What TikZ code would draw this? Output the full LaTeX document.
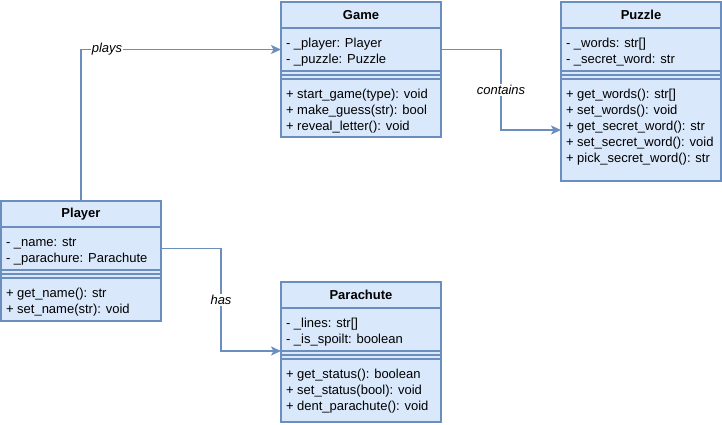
\documentclass[tikz,border=0pt]{standalone}
\usepackage{fontspec}
\setmainfont{Liberation Sans}
\usetikzlibrary{arrows.meta, positioning}
\definecolor{umlfill}{RGB}{218,232,252}
\definecolor{umlline}{RGB}{108,142,191}

% one field of a class box: fixed height, text at the top
\newcommand{\umltext}[2]{\parbox[c][#1][t]{150pt}{\vspace{8.5pt}\strut #2}}
\newcommand{\umlfont}{\fontsize{13}{16}\selectfont}

\tikzset{
  umlbox/.style={draw=umlline, fill=umlfill, line width=1.3pt, outer sep=0pt},
  umlhead/.style={umlbox, minimum width=160pt, minimum height=26pt, inner sep=0pt, anchor=north west, font=\umlfont\bfseries},
  umlfield/.style={umlbox, inner xsep=5pt, inner ysep=0pt, align=left, font=\umlfont},
  umlsep/.style={umlbox, minimum width=160pt, minimum height=8pt, inner sep=0pt,
    path picture={\draw[umlline, line width=1.3pt] (path picture bounding box.west) -- (path picture bounding box.east);}},
  link/.style={draw=umlline, line width=1.6pt, -{Stealth[length=10pt, width=9pt, inset=2.5pt]}},
  linklabel/.style={fill=white, font=\umlfont\itshape, inner sep=1pt}
}

\begin{document}
\begin{tikzpicture}[x=1pt, y=-1pt]
  \useasboundingbox (0,0) rectangle (722,424);

  % Game
  \node[umlhead] (gamehead) at (281,2) {Game};
  \node[umlfield, below=0pt of gamehead] (gameattr) {\umltext{43pt}{- \_player: Player\\ - \_puzzle: Puzzle}};
  \node[umlsep, below=0pt of gameattr] (gamesep) {};
  \node[umlfield, below=0pt of gamesep] (gamemeth) {\umltext{58pt}{+ start\_game(type): void\\ + make\_guess(str): bool\\ + reveal\_letter(): void}};

  % Puzzle
  \node[umlhead] (puzzlehead) at (561,2) {Puzzle};
  \node[umlfield, below=0pt of puzzlehead] (puzzleattr) {\umltext{43pt}{- \_words: str[]\\ - \_secret\_word: str}};
  \node[umlsep, below=0pt of puzzleattr] (puzzlesep) {};
  \node[umlfield, below=0pt of puzzlesep] (puzzlemeth) {\umltext{102pt}{+ get\_words(): str[]\\ + set\_words(): void\\ + get\_secret\_word(): str\\ + set\_secret\_word(): void\\ + pick\_secret\_word(): str}};

  % Player
  \node[umlhead] (playerhead) at (1,201) {Player};
  \node[umlfield, below=0pt of playerhead] (playerattr) {\umltext{43pt}{- \_name: str\\ - \_parachure: Parachute}};
  \node[umlsep, below=0pt of playerattr] (playersep) {};
  \node[umlfield, below=0pt of playersep] (playermeth) {\umltext{43pt}{+ get\_name(): str\\ + set\_name(str): void}};

  % Parachute
  \node[umlhead] (chutehead) at (281,282) {Parachute};
  \node[umlfield, below=0pt of chutehead] (chuteattr) {\umltext{43pt}{- \_lines: str[]\\ - \_is\_spoilt: boolean}};
  \node[umlsep, below=0pt of chuteattr] (chutesep) {};
  \node[umlfield, below=0pt of chutesep] (chutemeth) {\umltext{63pt}{+ get\_status(): boolean\\ + set\_status(bool): void\\ + dent\_parachute(): void}};

  % associations
  \draw[link] (playerhead.north) |- (gameattr.west) node[linklabel, pos=0.565] {plays};
  \draw[link] (gameattr.east) -- ++(60,0) |- (puzzlemeth.west) node[linklabel, pos=0.25] {contains};
  \draw[link] (playerattr.east) -- ++(60,0) |- (chuteattr.south west) node[linklabel, pos=0.25] {has};
\end{tikzpicture}
\end{document}
